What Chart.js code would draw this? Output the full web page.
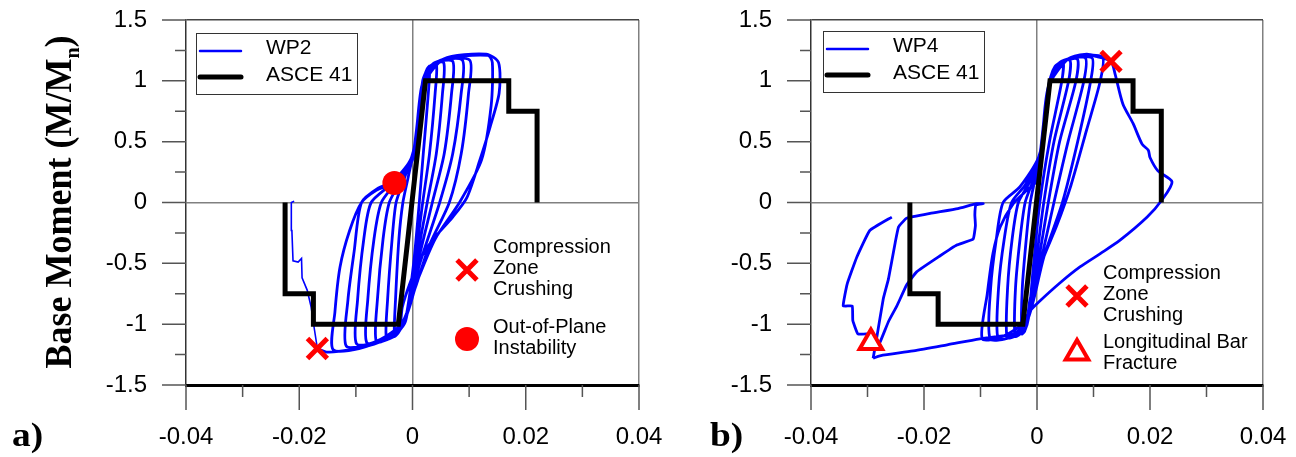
<!DOCTYPE html>
<html>
<head>
<meta charset="utf-8">
<script src="https://cdn.jsdelivr.net/npm/chart.js@4"></script>
<style>
  html, body { margin: 0; padding: 0; background: #fff; }
  #wrap { position: relative; width: 1296px; height: 457px; overflow: hidden; }
  canvas { position: absolute; top: 0; }
  #chart-a { left: 0; }
  #chart-b { left: 648px; }
</style>
</head>
<body>
<div id="wrap">
  <canvas id="chart-a" width="700" height="457"></canvas>
  <canvas id="chart-b" width="648" height="457"></canvas>
</div>
<script>
// axis ticks (minor ticks have an empty label)
const driftTicks = [-0.04, -0.03, -0.02, -0.01, 0, 0.01, 0.02, 0.03, 0.04];
const driftLabels = ['-0.04', '', '-0.02', '', '0', '', '0.02', '', '0.04'];
const momentTicks = [-1.5, -1.25, -1, -0.75, -0.5, -0.25, 0, 0.25, 0.5, 0.75, 1, 1.25, 1.5];
const momentLabels = ['-1.5', '', '-1', '', '-0.5', '', '0', '', '0.5', '', '1', '', '1.5'];

// ASCE 41 backbone (same for both walls)
const asceDrift = [0.022, 0.022, 0.017, 0.017, 0.0023, -0.0025, -0.0175, -0.0175, -0.0225, -0.0225];
const asceMoment = [0, 0.75, 0.75, 1, 1, -1, -1, -0.75, -0.75, 0];

// WP2 measured response [drift, M/Mn]
const wp2Cycles = [
  [0, 0], [0.0008, 0.5], [0.0018, 1.0], [0.0030, 1.12],
  [0.0028, 0.9], [0.0019, 0.4], [0.0012, 0.0], [0.0002, -0.5], [-0.0012, -0.95], [-0.0025, -1.07], [-0.0032, -1.10],
  [-0.0030, -0.8], [-0.0024, -0.3], [-0.0017, 0.0], [-0.0008, 0.2], [0.0003, 0.45], [0.0015, 0.9], [0.0026, 1.1], [0.0042, 1.14],
  [0.0040, 0.9], [0.0030, 0.4], [0.0018, 0.0], [0.0004, -0.5], [-0.0012, -0.97], [-0.0030, -1.09], [-0.0046, -1.12],
  [-0.0044, -0.8], [-0.0036, -0.3], [-0.0029, 0.0], [-0.0015, 0.19], [0.0003, 0.45], [0.0016, 0.95], [0.0032, 1.12], [0.0055, 1.15],
  [0.0053, 0.9], [0.0042, 0.4], [0.0026, 0.0], [0.0006, -0.5], [-0.0013, -0.97], [-0.0038, -1.11], [-0.0064, -1.14],
  [-0.0062, -0.8], [-0.0052, -0.3], [-0.0041, 0.0], [-0.0022, 0.17], [0.0002, 0.42], [0.0016, 0.95], [0.0036, 1.14], [0.0071, 1.16],
  [0.0069, 0.9], [0.0056, 0.4], [0.0035, 0.0], [0.0009, -0.5], [-0.0015, -0.98], [-0.0048, -1.13], [-0.0081, -1.15],
  [-0.0079, -0.8], [-0.0068, -0.3], [-0.0055, 0.0], [-0.0030, 0.16], [0.0001, 0.4], [0.0017, 0.95], [0.0040, 1.15], [0.0088, 1.17],
  [0.0086, 0.9], [0.0071, 0.4], [0.0048, 0.0], [0.0013, -0.5], [-0.0016, -0.98], [-0.0058, -1.14], [-0.0099, -1.16],
  [-0.0097, -0.8], [-0.0086, -0.3], [-0.0073, 0.0], [-0.0036, 0.16], [0.0, 0.38], [0.0017, 0.95], [0.0045, 1.16], [0.0101, 1.17],
  [0.0099, 0.9], [0.0086, 0.4], [0.0065, 0.0], [0.0030, -0.35], [0.0005, -0.7], [-0.0018, -1.0], [-0.0068, -1.15], [-0.0117, -1.18],
  [-0.0114, -0.8], [-0.0103, -0.4], [-0.0090, 0.0], [-0.0060, 0.12], [-0.0033, 0.17], [0.0, 0.36], [0.0018, 0.95], [0.0050, 1.17], [0.0133, 1.21],
  [0.0141, 1.15], [0.0139, 0.8], [0.0122, 0.35], [0.0083, 0.0], [0.0040, -0.3], [0.0008, -0.65], [-0.0020, -1.0], [-0.0080, -1.18], [-0.0140, -1.21],
  [-0.0137, -0.9], [-0.0128, -0.53], [-0.0111, -0.23], [-0.0090, 0.0], [-0.0064, 0.10], [-0.0035, 0.16], [0.0, 0.35], [0.0018, 0.95], [0.0055, 1.18], [0.0130, 1.22], [0.0152, 1.15],
  [0.0153, 0.90], [0.0137, 0.62], [0.0119, 0.35], [0.0096, 0.04], [0.0071, -0.12], [0.0035, -0.31], [0.0012, -0.48], [-0.0005, -0.67], [-0.0018, -0.86], [-0.0024, -1.03], [-0.0060, -1.15], [-0.0110, -1.21], [-0.0150, -1.23], [-0.0168, -1.20]
];
const wp2Tail = [
  [-0.0168, -1.20], [-0.0173, -1.05], [-0.0179, -0.86], [-0.0186, -0.72], [-0.0195, -0.62], [-0.0196, -0.46],
  [-0.0202, -0.49], [-0.0211, -0.48], [-0.0213, -0.23], [-0.0214, 0.0], [-0.0209, 0.01]
];

// WP4 measured response [drift, M/Mn]
const wp4Cycles = [
  [0, 0], [0.0008, 0.4], [0.0018, 0.9], [0.0030, 1.1], [0.0046, 1.16],
  [0.0044, 1.0], [0.0022, 0.5], [0.0005, 0.0], [-0.0006, -0.5], [-0.0015, -0.95], [-0.0022, -1.06], [-0.0027, -1.08],
  [-0.0026, -0.7], [-0.0019, -0.3], [-0.0012, 0.0], [-0.0004, 0.18], [0.0006, 0.42], [0.0018, 0.9], [0.0032, 1.12], [0.0058, 1.17],
  [0.0056, 1.0], [0.0030, 0.5], [0.0012, 0.0], [-0.0002, -0.5], [-0.0016, -0.96], [-0.0030, -1.08], [-0.0039, -1.10],
  [-0.0038, -0.7], [-0.0030, -0.3], [-0.0021, 0.0], [-0.0008, 0.17], [0.0006, 0.42], [0.0019, 0.92], [0.0035, 1.13], [0.0071, 1.18],
  [0.0069, 1.0], [0.0040, 0.5], [0.0020, 0.0], [0.0002, -0.5], [-0.0017, -0.97], [-0.0036, -1.09], [-0.0053, -1.11],
  [-0.0052, -0.7], [-0.0044, -0.3], [-0.0033, 0.0], [-0.0014, 0.16], [0.0006, 0.42], [0.0020, 0.93], [0.0040, 1.15], [0.0085, 1.19],
  [0.0083, 1.0], [0.0055, 0.5], [0.0030, 0.0], [0.0006, -0.5], [-0.0017, -0.97], [-0.0044, -1.10], [-0.0069, -1.12],
  [-0.0068, -0.7], [-0.0058, -0.3], [-0.0045, 0.0], [-0.0020, 0.15], [0.0006, 0.42], [0.0021, 0.94], [0.0045, 1.16], [0.0097, 1.19],
  [0.0095, 1.0], [0.0072, 0.5], [0.0045, 0.0], [0.0012, -0.45], [-0.0017, -0.97], [-0.0050, -1.11], [-0.0083, -1.12],
  [-0.0082, -0.7], [-0.0072, -0.3], [-0.0060, 0.0], [-0.0030, 0.13], [0.0005, 0.4], [0.0022, 0.95], [0.0050, 1.17], [0.0115, 1.20],
  [0.0112, 1.0], [0.0088, 0.6], [0.0060, 0.14], [0.0035, -0.19], [0.0011, -0.46], [-0.0012, -0.79], [-0.0020, -0.97], [-0.0060, -1.10], [-0.0097, -1.12],
  [-0.0088, -0.75], [-0.0078, -0.42], [-0.0065, -0.2], [-0.0042, -0.01], [-0.0018, 0.10], [0.0, 0.18], [0.0008, 0.45], [0.0020, 0.95], [0.0055, 1.18], [0.0088, 1.22], [0.0105, 1.20], [0.0131, 1.16],
  [0.0138, 1.06], [0.0152, 0.81], [0.0170, 0.65], [0.0186, 0.48], [0.0197, 0.43], [0.0200, 0.37], [0.0214, 0.26], [0.0239, 0.17], [0.0221, 0.02],
  [0.0195, -0.12], [0.0147, -0.31], [0.0112, -0.42], [0.0076, -0.53], [0.0041, -0.66], [0.0005, -0.81], [-0.0012, -0.89], [-0.0025, -0.99],
  [-0.0030, -1.07], [-0.0101, -1.12], [-0.0159, -1.17], [-0.0219, -1.22], [-0.0278, -1.26], [-0.0290, -1.28]
];
const wp4Tail = [
  [-0.0290, -1.28], [-0.0284, -1.12], [-0.0272, -0.79], [-0.0263, -0.63], [-0.0251, -0.33], [-0.0245, -0.20], [-0.0231, -0.13],
  [-0.0189, -0.09], [-0.0140, -0.05], [-0.0107, -0.01], [-0.0095, -0.01],
  [-0.0108, -0.02], [-0.0110, -0.10], [-0.0109, -0.19], [-0.0113, -0.30], [-0.0142, -0.35], [-0.0172, -0.44], [-0.0213, -0.57],
  [-0.0231, -0.68], [-0.0248, -0.85], [-0.0263, -0.98], [-0.0278, -1.15], [-0.0287, -1.20],
  [-0.0290, -1.08], [-0.0299, -1.08], [-0.0317, -1.08], [-0.0326, -0.97], [-0.0327, -0.85], [-0.0343, -0.85], [-0.0336, -0.67],
  [-0.0319, -0.45], [-0.0296, -0.23], [-0.0257, -0.12]
];

// damage events
const wp2Crushing = [[-0.0168, -1.20]];
const wp2Instability = [[-0.0032, 0.16]];
const wp4Crushing = [[0.0131, 1.16]];
const wp4Fracture = [[-0.0294, -1.15]];

const sans = "'Liberation Sans', Arial, sans-serif";
const serif = "'Liberation Serif', 'Times New Roman', serif";

const markerStyles = {
  crushing: { pointStyle: 'crossRot', radius: 14, borderWidth: 5, borderColor: '#ff0000', backgroundColor: '#ff0000' },
  instability: { pointStyle: 'circle', radius: 12, borderWidth: 0, borderColor: '#ff0000', backgroundColor: '#ff0000' },
  fracture: { pointStyle: 'triangle', radius: 13, borderWidth: 4, borderColor: '#ff0000', backgroundColor: '#ffffff' }
};

function pts(arr) {
  return arr.map(p => ({ x: p[0], y: p[1] }));
}

function curve(label, data, width, tension) {
  return { label: label, data: pts(data), showLine: true, borderColor: '#0000ff', borderWidth: width,
    pointRadius: 0, tension: tension, order: 3 };
}

function marker(name, data) {
  const s = markerStyles[name];
  return { label: name, data: pts(data), showLine: false, pointStyle: s.pointStyle, pointRadius: s.radius,
    borderWidth: s.borderWidth, borderColor: s.borderColor, backgroundColor: s.backgroundColor, order: 0 };
}

const tickMarks = {
  id: 'tickMarks',
  afterDraw(chart) {
    const { ctx, chartArea: a, scales } = chart;
    ctx.save();
    ctx.strokeStyle = '#555';
    ctx.lineWidth = 1.5;
    ctx.beginPath();
    scales.y.ticks.forEach((t, i) => {
      const py = scales.y.getPixelForValue(t.value);
      const len = momentLabels[i] ? 24 : 11;
      ctx.moveTo(a.left - len, py);
      ctx.lineTo(a.left, py);
    });
    scales.x.ticks.forEach((t, i) => {
      const px = scales.x.getPixelForValue(t.value);
      const len = driftLabels[i] ? 25 : 12;
      ctx.moveTo(px, a.bottom);
      ctx.lineTo(px, a.bottom + len);
    });
    ctx.stroke();
    ctx.restore();
  }
};

const decor = {
  id: 'decor',
  afterDraw(chart, args, o) {
    const { ctx, chartArea: a } = chart;
    ctx.save();
    ctx.fillStyle = '#000';
    ctx.textBaseline = 'middle';
    ctx.textAlign = 'left';

    // legend box
    const bx = a.left + o.legend.x, by = a.top + o.legend.y;
    ctx.strokeStyle = '#333';
    ctx.lineWidth = 1;
    ctx.strokeRect(bx + 0.5, by + 0.5, 161, 61);
    ctx.lineCap = 'round';
    ctx.strokeStyle = '#0000ff';
    ctx.lineWidth = 2.5;
    ctx.beginPath(); ctx.moveTo(bx + 4, by + 18); ctx.lineTo(bx + 45, by + 18); ctx.stroke();
    ctx.strokeStyle = '#000';
    ctx.lineWidth = 5;
    ctx.beginPath(); ctx.moveTo(bx + 4, by + 44); ctx.lineTo(bx + 45, by + 44); ctx.stroke();
    ctx.font = '21px ' + sans;
    ctx.fillText(chart.data.datasets[0].label, bx + 70, by + 15.5);
    ctx.fillText('ASCE 41', bx + 70, by + 42);

    // event key
    ctx.font = '20px ' + sans;
    o.notes.forEach(n => {
      const s = markerStyles[n.style];
      const mx = a.left + n.x, my = a.top + n.y;
      ctx.fillStyle = s.backgroundColor;
      ctx.strokeStyle = s.borderColor;
      ctx.lineWidth = s.borderWidth;
      ctx.lineCap = 'butt';
      Chart.helpers.drawPoint(ctx, { pointStyle: s.pointStyle, radius: s.radius, rotation: 0, borderWidth: s.borderWidth }, mx, my);
      ctx.fillStyle = '#000';
      n.lines.forEach((t, i) => ctx.fillText(t, mx + 26, my + n.dy[i]));
    });

    // panel letter
    ctx.save();
    ctx.font = 'bold 34px ' + serif;
    ctx.textBaseline = 'alphabetic';
    ctx.translate(o.letter.x, 446);
    ctx.scale(1.1, 1);
    ctx.fillText(o.letter.text, 0, 0);
    ctx.restore();

    // y axis title
    if (o.yTitle) {
      ctx.save();
      ctx.translate(71, 202);
      ctx.rotate(-Math.PI / 2);
      ctx.scale(1, 1.08);
      ctx.textBaseline = 'alphabetic';
      const big = 'bold 36px ' + serif, small = 'bold 20px ' + serif;
      ctx.font = big;
      const w1 = ctx.measureText('Base Moment (M/M').width;
      const w3 = ctx.measureText(')').width;
      ctx.font = small;
      const w2 = ctx.measureText('n').width;
      let x = -(w1 + w2 + w3) / 2;
      ctx.font = big;
      ctx.fillText('Base Moment (M/M', x, 0);
      x += w1;
      ctx.font = small;
      ctx.fillText('n', x, 7);
      x += w2;
      ctx.font = big;
      ctx.fillText(')', x, 0);
      ctx.restore();
    }
    ctx.restore();
  }
};

function makePanel(id, axisWidth, padRight, datasets, decorOpts) {
  return new Chart(document.getElementById(id), {
    type: 'scatter',
    data: {
      datasets: datasets.concat([{
        label: 'ASCE 41',
        data: asceDrift.map((d, i) => ({ x: d, y: asceMoment[i] })),
        showLine: true, borderColor: '#000', borderWidth: 5, pointRadius: 0,
        borderJoinStyle: 'miter', order: 1
      }])
    },
    options: {
      responsive: false,
      animation: false,
      devicePixelRatio: 1,
      events: [],
      layout: { autoPadding: false, padding: { top: 20, right: padRight, left: 0, bottom: 0 } },
      plugins: {
        legend: { display: false },
        tooltip: { enabled: false },
        decor: decorOpts
      },
      scales: {
        x: {
          type: 'linear', min: -0.04, max: 0.04,
          afterBuildTicks: s => { s.ticks = driftTicks.map(v => ({ value: v })); },
          afterFit: s => { s.height = 72; s.paddingLeft = 0; s.paddingRight = 0; },
          grid: {
            drawTicks: false, lineWidth: 1.5,
            color: c => (c.tick && (c.tick.value === 0 || c.tick.value === 0.04)) ? '#808080' : 'rgba(0,0,0,0)'
          },
          border: { color: '#000', width: 3 },
          ticks: {
            autoSkip: false, maxRotation: 0, padding: 38, color: '#000',
            font: { family: sans, size: 24 },
            callback: (v, i) => driftLabels[i]
          }
        },
        y: {
          type: 'linear', min: -1.5, max: 1.5,
          afterBuildTicks: s => { s.ticks = momentTicks.map(v => ({ value: v })); },
          afterFit: s => { s.width = axisWidth; s.paddingTop = 0; s.paddingBottom = 0; },
          grid: {
            drawTicks: false, lineWidth: 1.5,
            color: c => !c.tick ? 'rgba(0,0,0,0)' : c.tick.value === 0 ? '#808080' : c.tick.value === 1.5 ? '#444' : 'rgba(0,0,0,0)'
          },
          border: { color: '#333', width: 1.5 },
          ticks: {
            autoSkip: false, padding: 39, color: '#000',
            font: { family: sans, size: 24 },
            callback: (v, i) => momentLabels[i]
          }
        }
      }
    },
    plugins: [tickMarks, decor]
  });
}

makePanel('chart-a', 186, 61, [
  curve('WP2', wp2Cycles, 2.8, 0.25),
  curve('WP2 tail', wp2Tail, 1.6, 0),
  marker('crushing', wp2Crushing),
  marker('instability', wp2Instability)
], {
  legend: { x: 10, y: 13 },
  notes: [
    { style: 'crushing', x: 281, y: 250, lines: ['Compression', 'Zone', 'Crushing'], dy: [-23, -2, 19] },
    { style: 'instability', x: 281, y: 319, lines: ['Out-of-Plane', 'Instability'], dy: [-12, 9] }
  ],
  letter: { text: 'a)', x: 12 },
  yTitle: true
});

makePanel('chart-b', 163, 33, [
  curve('WP4', wp4Cycles, 2.8, 0.25),
  curve('WP4 tail', wp4Tail, 2.8, 0.1),
  marker('crushing', wp4Crushing),
  marker('fracture', wp4Fracture)
], {
  legend: { x: 12, y: 11 },
  notes: [
    { style: 'crushing', x: 266, y: 276, lines: ['Compression', 'Zone', 'Crushing'], dy: [-23, -2, 19] },
    { style: 'fracture', x: 266, y: 333, lines: ['Longitudinal Bar', 'Fracture'], dy: [-11, 10] }
  ],
  letter: { text: 'b)', x: 62 },
  yTitle: false
});
</script>
</body>
</html>
